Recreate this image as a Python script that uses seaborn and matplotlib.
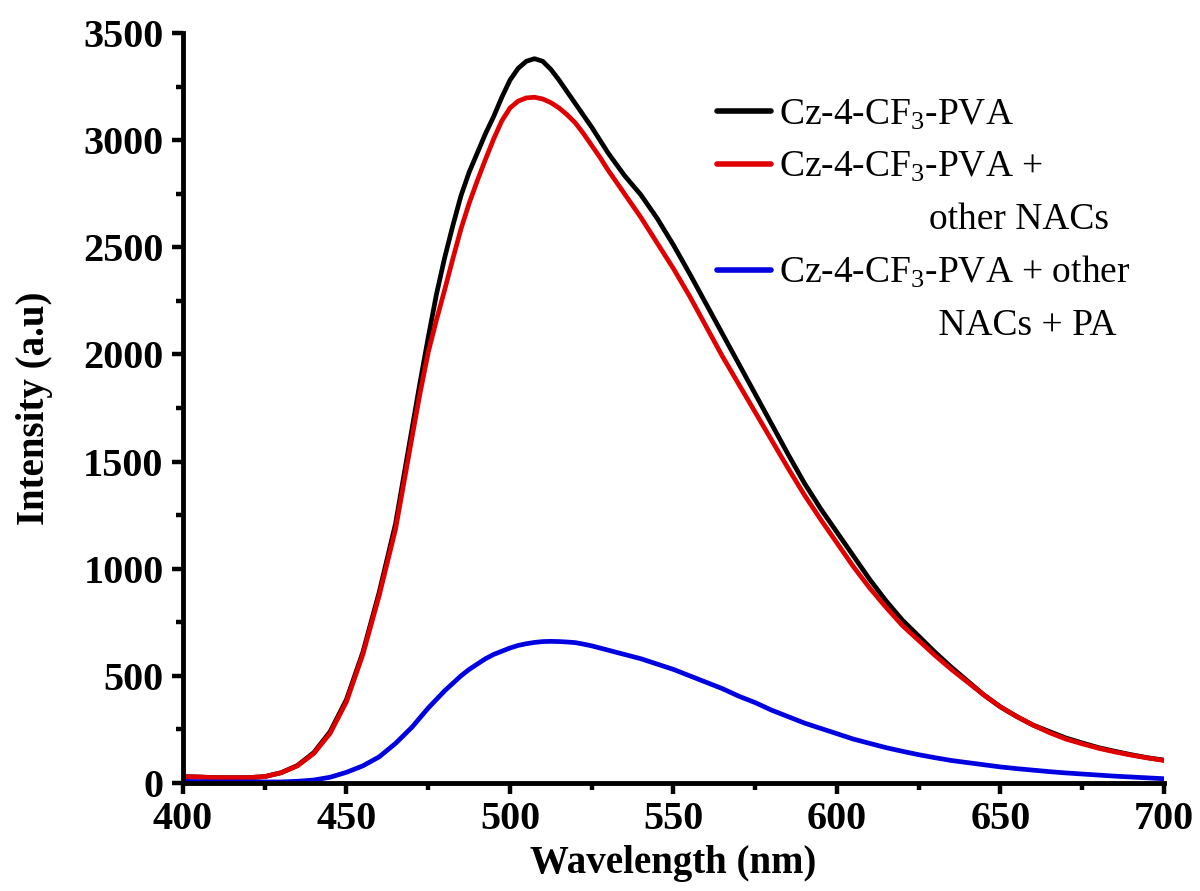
import numpy as np
import pandas as pd
import matplotlib
matplotlib.use("Agg")
import matplotlib.pyplot as plt
from matplotlib.lines import Line2D
from matplotlib.ticker import MultipleLocator
import seaborn as sns

wavelength = [400, 405, 410, 415, 420, 425, 430, 435, 440, 445, 450, 455, 460, 465, 470,
              472.5, 475, 477.5, 480, 482.5, 485, 487.5, 490, 492.5, 495, 497.5, 500,
              502.5, 505, 507.5, 510, 512.5, 515, 517.5, 520, 522.5, 525, 527.5, 530,
              535, 540, 545, 550, 555, 560, 565, 570, 575, 580, 585, 590, 595, 600,
              605, 610, 615, 620, 625, 630, 635, 640, 645, 650, 655, 660, 665, 670,
              675, 680, 685, 690, 695, 700]

cz = [30, 28, 25, 25, 25, 30, 48, 82, 142, 240, 390, 610, 890, 1210, 1650,
      1870, 2080, 2280, 2450, 2600, 2740, 2850, 2940, 3030, 3110, 3200, 3280,
      3335, 3368, 3380, 3368, 3330, 3280, 3225, 3170, 3115, 3060, 3000, 2940,
      2835, 2745, 2635, 2510, 2375, 2235, 2095, 1955, 1815, 1675, 1535, 1400, 1280, 1170,
      1060, 950, 850, 760, 685, 610, 540, 475, 410, 355, 310, 270, 240, 210,
      187, 165, 148, 132, 118, 107]

cz_nacs = [30, 28, 25, 25, 25, 30, 48, 80, 138, 232, 380, 600, 875, 1185, 1610,
           1820, 2010, 2160, 2300, 2445, 2585, 2705, 2810, 2910, 3005, 3090, 3150,
           3182, 3197, 3200, 3192, 3175, 3150, 3118, 3080, 3030, 2975, 2920, 2860,
           2750, 2640, 2520, 2400, 2270, 2130, 1990, 1860, 1730, 1600, 1470, 1345, 1230, 1120,
           1010, 910, 820, 735, 665, 595, 530, 470, 410, 355, 310, 270, 235, 205,
           183, 162, 145, 130, 117, 105]

cz_nacs_pa = [8, 6, 5, 5, 5, 5, 5, 8, 14, 27, 50, 80, 122, 185, 260,
              305, 350, 390, 430, 465, 500, 530, 555, 580, 600, 615, 630,
              642, 650, 656, 660, 661, 660, 658, 655, 648, 640, 630, 620,
              600, 580, 555, 530, 500, 470, 440, 405, 375, 340, 310, 280, 255, 230,
              205, 185, 165, 148, 132, 118, 105, 95, 85, 75, 67, 60, 53, 47,
              42, 37, 32, 28, 24, 20]

series_names = ["Cz-4-CF3-PVA", "Cz-4-CF3-PVA + other NACs", "Cz-4-CF3-PVA + other NACs + PA"]
colors = ["#000000", "#e00000", "#0000e0"]

x_ticks = [400, 450, 500, 550, 600, 650, 700]
y_ticks = [0, 500, 1000, 1500, 2000, 2500, 3000, 3500]

n = len(wavelength)
df = pd.DataFrame({
    "Wavelength": wavelength * 3,
    "Intensity": cz + cz_nacs + cz_nacs_pa,
    "Series": [series_names[0]] * n + [series_names[1]] * n + [series_names[2]] * n,
})

sns.set_style("ticks", {"axes.edgecolor": "black", "text.color": "black",
                        "xtick.color": "black", "ytick.color": "black",
                        "axes.labelcolor": "black"})
plt.rcParams["font.family"] = ["Liberation Serif", "DejaVu Serif"]
plt.rcParams["mathtext.default"] = "regular"

fig = plt.figure(figsize=(12, 8.91), dpi=100)
ax = fig.add_axes([0.1525, 0.1212, 0.8175, 0.8418])

sns.lineplot(data=df, x="Wavelength", y="Intensity", hue="Series",
             palette=dict(zip(series_names, colors)), linewidth=3.4,
             legend=False, ax=ax, sort=False)

ax.set_xlim(400, 700)
ax.set_ylim(0, 3500)
ax.set_xticks(x_ticks)
ax.set_yticks(y_ticks)
ax.xaxis.set_minor_locator(MultipleLocator(25))
ax.yaxis.set_minor_locator(MultipleLocator(250))

for s in ["top", "right"]:
    ax.spines[s].set_visible(False)
for s in ["left", "bottom"]:
    ax.spines[s].set_linewidth(3.5)
    ax.spines[s].set_color("black")

ax.tick_params(axis="both", which="major", direction="out", length=8, width=3.2,
               labelsize=29, color="black", labelcolor="black")
ax.tick_params(axis="x", which="major", pad=5)
ax.tick_params(axis="y", which="major", pad=6)
ax.tick_params(axis="both", which="minor", direction="out", length=5, width=3.2, color="black")
for lab in ax.get_xticklabels() + ax.get_yticklabels():
    lab.set_fontweight("bold")

ax.set_xlabel("Wavelength (nm)", fontsize=28, fontweight="bold", labelpad=5, color="black")
ax.set_ylabel("Intensity (a.u)", fontsize=28, fontweight="bold", labelpad=22, color="black")

handles = [
    Line2D([], [], color=colors[0], lw=4),
    Line2D([], [], color=colors[1], lw=4),
    Line2D([], [], color="none", lw=0),
    Line2D([], [], color=colors[2], lw=4),
    Line2D([], [], color="none", lw=0),
]
labels = [
    "Cz-4-CF$_3$-PVA",
    "Cz-4-CF$_3$-PVA +",
    "                other NACs",
    "Cz-4-CF$_3$-PVA + other",
    "                 NACs + PA",
]
leg = ax.legend(handles, labels, loc="upper left", bbox_to_anchor=(717 / 1200, 1 - 98 / 891),
                bbox_transform=fig.transFigure, frameon=False, fontsize=27,
                handlelength=1.45, handletextpad=0.2, labelspacing=0.47, borderpad=0,
                borderaxespad=0)
for t in leg.get_texts():
    t.set_color("black")

fig.savefig("out.png", dpi=100)
